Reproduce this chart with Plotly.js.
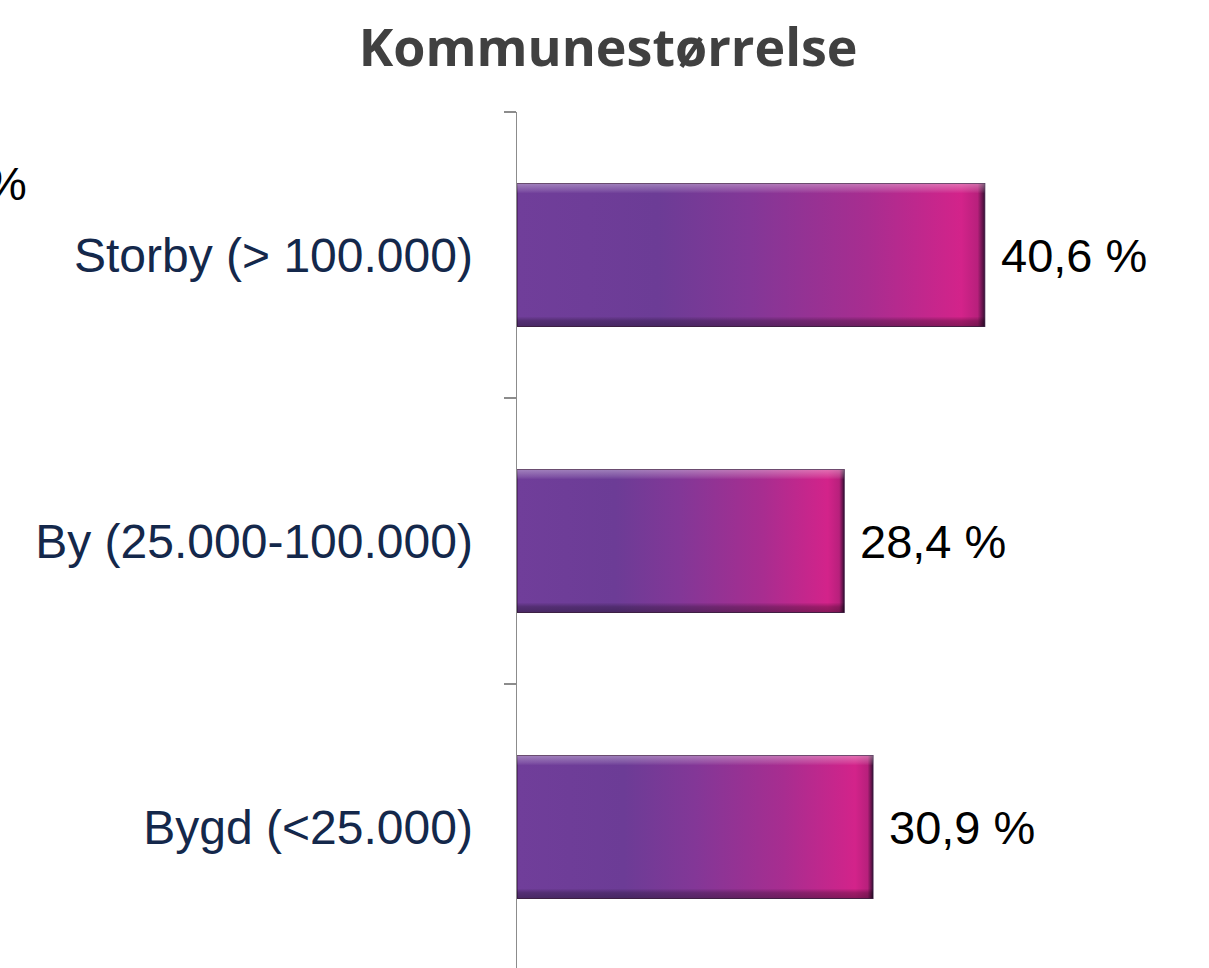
<!DOCTYPE html>
<html>
<head>
<meta charset="utf-8">
<script src="https://cdn.plot.ly/plotly-3.0.1.min.js"></script>
<style>
html,body{margin:0;padding:0;background:#fff;}
#chart{width:1209px;height:968px;}
</style>
</head>
<body>
<div id="chart"></div>
<script>
// Data
const categories = ['Storby (> 100.000)', 'By (25.000-100.000)', 'Bygd (<25.000)'];
const values = [40.6, 28.4, 30.9];
const valueLabels = ['40,6 %', '28,4 %', '30,9 %'];
const chartTitle = 'Kommunestørrelse';
const axisUnit = '%';

const trace = {
  type: 'bar',
  orientation: 'h',
  x: values,
  y: categories,
  width: 0.5,
  marker: { color: '#8a3494', line: { color: 'rgba(55,18,60,0.85)', width: 1.2 } },
  hoverinfo: 'none'
};

const annotations = values.map((v, i) => ({
  x: v, y: categories[i], xref: 'x', yref: 'y',
  text: valueLabels[i], showarrow: false,
  xanchor: 'left', yanchor: 'middle', xshift: 14,
  font: { family: 'Liberation Sans, Arial, sans-serif', size: 47, color: '#000000' }
}));
annotations.push({
  xref: 'paper', yref: 'paper', x: -0.848, y: 0.917,
  text: axisUnit, showarrow: false, xanchor: 'right', yanchor: 'middle',
  font: { family: 'Liberation Sans, Arial, sans-serif', size: 47, color: '#000000' }
});

const layout = {
  width: 1209, height: 968,
  margin: { l: 517, r: 116, t: 112, b: 0, pad: 0 },
  paper_bgcolor: '#ffffff', plot_bgcolor: '#ffffff',
  showlegend: false,
  title: {
    text: '<b>' + chartTitle + '</b>',
    x: 0.503, xref: 'container', xanchor: 'center',
    y: 0.951, yref: 'container', yanchor: 'middle',
    font: { family: 'Open Sans, sans-serif', size: 52, color: '#404040' }
  },
  xaxis: {
    range: [0, 50], showline: false, showgrid: false, zeroline: false,
    showticklabels: false, ticks: '', fixedrange: true
  },
  yaxis: {
    type: 'category', range: [2.493, -0.5], automargin: false,
    showline: true, linecolor: '#8c8c8c', linewidth: 1.5,
    ticks: 'outside', ticklen: 12, tickcolor: '#8c8c8c', tickwidth: 1.5,
    tickson: 'boundaries', showgrid: false, zeroline: false,
    ticklabelstandoff: 33,
    tickfont: { family: 'Liberation Sans, Arial, sans-serif', size: 48, color: '#14284b' }
  },
  annotations: annotations
};

Plotly.newPlot('chart', [trace], layout, { staticPlot: true }).then(function (gd) {
  const svg = gd.querySelector('.main-svg');
  const NS = 'http://www.w3.org/2000/svg';
  let defs = svg.querySelector('defs');
  if (!defs) { defs = document.createElementNS(NS, 'defs'); svg.insertBefore(defs, svg.firstChild); }
  function grad(id, horiz, stops) {
    const g = document.createElementNS(NS, 'linearGradient');
    g.setAttribute('id', id);
    g.setAttribute('x1', '0'); g.setAttribute('y1', '0');
    g.setAttribute('x2', horiz ? '1' : '0'); g.setAttribute('y2', horiz ? '0' : '1');
    stops.forEach(function (s) {
      const st = document.createElementNS(NS, 'stop');
      st.setAttribute('offset', s[0]);
      st.setAttribute('stop-color', s[1]);
      st.setAttribute('stop-opacity', s[2] === undefined ? 1 : s[2]);
      g.appendChild(st);
    });
    defs.appendChild(g);
  }
  grad('barH', true, [
    ['0', '#703e9a'], ['0.3', '#6c3c96'], ['0.5', '#833797'],
    ['0.75', '#a82d90'], ['0.95', '#d3238a'], ['0.985', '#b8207c'], ['1', '#3d0f35']
  ]);
  grad('barV', false, [
    ['0', '#ffffff', 0.35], ['0.05', '#ffffff', 0.12], ['0.07', '#ffffff', 0],
    ['0.93', '#000000', 0], ['0.96', '#000000', 0.25], ['1', '#000000', 0.35]
  ]);
  gd.querySelectorAll('.trace.bars .point path').forEach(function (p) {
    p.style.fill = 'url(#barH)';
    p.style.fillOpacity = 1;
    const c = p.cloneNode(true);
    c.style.fill = 'url(#barV)';
    c.style.stroke = 'none';
    p.parentNode.appendChild(c);
  });
});
</script>
</body>
</html>
